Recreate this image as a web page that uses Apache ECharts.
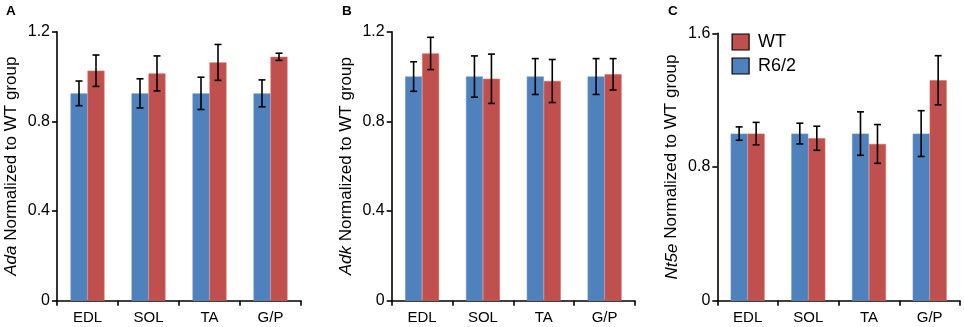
<!DOCTYPE html>
<html><head><meta charset="utf-8">
<script src="https://cdn.jsdelivr.net/npm/echarts@6/dist/echarts.min.js"></script>
<style>html,body{margin:0;padding:0;background:#fff}#c{width:964px;height:327px}</style>
</head><body><div id="c"></div>
<script>
var categories = ['EDL', 'SOL', 'TA', 'G/P'];
// Panel A: Ada
var adaR62 = [0.925, 0.925, 0.925, 0.925];
var adaR62Err = [0.055, 0.065, 0.072, 0.06];
var adaWT = [1.026, 1.014, 1.063, 1.088];
var adaWTErr = [0.07, 0.078, 0.08, 0.016];
// Panel B: Adk
var adkR62 = [1.0, 1.0, 1.0, 1.0];
var adkR62Err = [0.066, 0.092, 0.08, 0.08];
var adkWT = [1.103, 0.99, 0.98, 1.01];
var adkWTErr = [0.072, 0.11, 0.096, 0.07];
// Panel C: Nt5e
var ntR62 = [1.0, 1.0, 1.0, 1.0];
var ntR62Err = [0.04, 0.062, 0.13, 0.137];
var ntWT = [1.0, 0.972, 0.938, 1.319];
var ntWTErr = [0.067, 0.072, 0.116, 0.147];
var ticksAB = [0, 0.4, 0.8, 1.2];
var ticksC = [0, 0.8, 1.6];

var BLUE = '#4F81BD', RED = '#C0504D';
var BW = 17;
var FONT = 'Liberation Sans, Arial';
var chart = echarts.init(document.getElementById('c'));

function errSeries(idx, vals, errs, side) {
  return {
    type: 'custom', xAxisIndex: idx, yAxisIndex: idx, z: 5,
    data: vals.map(function (v, i) { return [i, v - errs[i], v + errs[i]]; }),
    renderItem: function (params, api) {
      var lo = api.coord([api.value(0), api.value(1)]);
      var hi = api.coord([api.value(0), api.value(2)]);
      var x = lo[0] + side * BW / 2;
      var cw = 3.5;
      var st = { stroke: '#000', lineWidth: 1.6 };
      return { type: 'group', children: [
        { type: 'line', shape: { x1: x, y1: lo[1], x2: x, y2: hi[1] }, style: st },
        { type: 'line', shape: { x1: x - cw, y1: lo[1], x2: x + cw, y2: lo[1] }, style: st },
        { type: 'line', shape: { x1: x - cw, y1: hi[1], x2: x + cw, y2: hi[1] }, style: st }
      ]};
    }
  };
}

var grids = [
  { left: 57, right: 663, top: 31.7, bottom: 26.3 },
  { left: 391.7, right: 329, top: 31.7, bottom: 26.3 },
  { left: 717.3, right: 4, top: 33.3, bottom: 26.3 }
];
var names = ['Ada', 'Adk', 'Nt5e'];
var ticks = [ticksAB, ticksAB, ticksC];

var xAxes = grids.map(function (g, i) {
  return {
    type: 'category', gridIndex: i, data: categories,
    axisLine: { lineStyle: { color: '#000', width: 1.6 } },
    axisTick: { show: true, length: 5, lineStyle: { color: '#000', width: 1.6 } },
    axisLabel: { color: '#000', fontSize: 15, fontFamily: FONT, margin: 10 }
  };
});
var yAxes = grids.map(function (g, i) {
  var t = ticks[i];
  return {
    type: 'value', gridIndex: i, min: t[0], max: t[t.length - 1], interval: t[1] - t[0],
    name: '{i|' + names[i] + '} Normalized to WT group',
    nameLocation: 'middle', nameGap: 37, nameRotate: 90,
    nameTextStyle: { color: '#000', fontSize: 17, fontFamily: FONT,
      rich: { i: { fontStyle: 'italic', fontSize: 17, color: '#000', fontFamily: FONT } } },
    axisLine: { show: true, lineStyle: { color: '#000', width: 1.6 } },
    axisTick: { show: true, length: 5, lineStyle: { color: '#000', width: 1.6 } },
    splitLine: { show: false },
    axisLabel: { color: '#000', fontSize: 16, fontFamily: FONT, margin: 7,
      formatter: function (v) { return String(v); } }
  };
});

var blueData = [adaR62, adkR62, ntR62], blueErr = [adaR62Err, adkR62Err, ntR62Err];
var redData = [adaWT, adkWT, ntWT], redErr = [adaWTErr, adkWTErr, ntWTErr];
var series = [];
for (var i = 0; i < 3; i++) {
  series.push({ type: 'bar', name: 'R6/2', xAxisIndex: i, yAxisIndex: i, data: blueData[i],
    barWidth: BW, barGap: '0%', itemStyle: { color: BLUE, borderColor: '#6B97CF', borderWidth: 0.6 } });
  series.push({ type: 'bar', name: 'WT', xAxisIndex: i, yAxisIndex: i, data: redData[i],
    barWidth: BW, barGap: '0%', itemStyle: { color: RED, borderColor: '#D56A66', borderWidth: 0.6 } });
  series.push(errSeries(i, blueData[i], blueErr[i], -1));
  series.push(errSeries(i, redData[i], redErr[i], 1));
}

chart.setOption({
  animation: false,
  grid: grids,
  xAxis: xAxes,
  yAxis: yAxes,
  legend: {
    data: ['WT', 'R6/2'], orient: 'vertical', left: 731.5, top: 33, padding: 0,
    itemWidth: 17, itemHeight: 16, itemGap: 6, icon: 'rect',
    itemStyle: { borderColor: '#000', borderWidth: 1.2 },
    textStyle: { color: '#000', fontSize: 18, fontFamily: FONT, padding: [0, 0, 0, 4] }
  },
  graphic: [
    { type: 'text', left: 6, top: 4, style: { text: 'A', font: 'bold 13.5px Liberation Sans, Arial', fill: '#000' } },
    { type: 'text', left: 342, top: 4, style: { text: 'B', font: 'bold 13.5px Liberation Sans, Arial', fill: '#000' } },
    { type: 'text', left: 668, top: 4, style: { text: 'C', font: 'bold 13.5px Liberation Sans, Arial', fill: '#000' } }
  ],
  series: series
});
</script></body></html>
